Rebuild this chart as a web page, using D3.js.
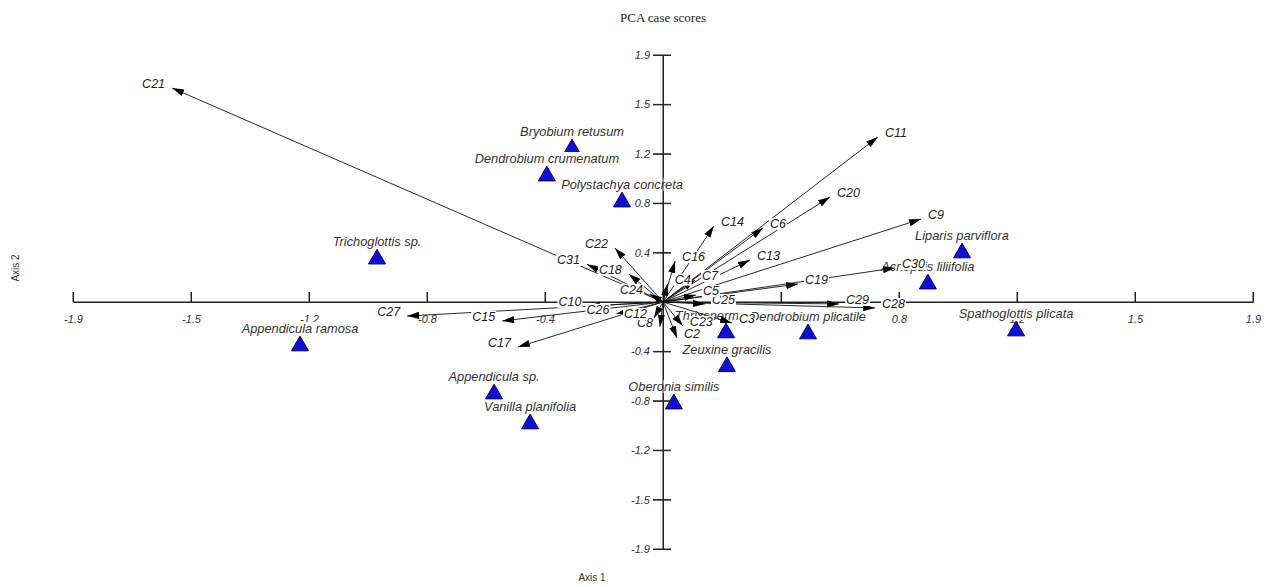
<!DOCTYPE html>
<html>
<head>
<meta charset="utf-8">
<script src="https://cdn.jsdelivr.net/npm/d3@7"></script>
<style>
  body { margin: 0; background: #fff; }
  svg { display: block; }
  text { font-family: Arial, "Liberation Sans", sans-serif; }
</style>
</head>
<body>
<script>
// tick positions are evenly spaced, labels are what the plot prints
const tickValues = [-1.9, -1.52, -1.14, -0.76, -0.38, 0, 0.38, 0.76, 1.14, 1.52, 1.9]
const xTickLabels = ["-1.9", "-1.5", "-1.2", "-0.8", "-0.4", "", "0.4", "0.8", "1.2", "1.5", "1.9"]
const yTickLabels = ["-1.9", "-1.5", "-1.2", "-0.8", "-0.4", "", "0.4", "0.8", "1.2", "1.5", "1.9"]

// case scores (species)
const species = ["Bryobium retusum", "Dendrobium crumenatum", "Polystachya concreta", "Trichoglottis sp.",
  "Appendicula ramosa", "Appendicula sp.", "Vanilla planifolia", "Oberonia similis", "Zeuxine gracilis",
  "Thrixspermum sp.", "Dendrobium plicatile", "Acriopsis liliifolia", "Liparis parviflora", "Spathoglottis plicata"]
const speciesX = [-0.293, -0.374, -0.132, -0.921, -1.169, -0.544, -0.428, 0.035, 0.206, 0.203, 0.467, 0.853, 0.963, 1.137]
const speciesY = [1.185, 0.977, 0.777, 0.338, -0.33, -0.70, -0.93, -0.777, -0.49, -0.23, -0.238, 0.146, 0.385, -0.215]

// variable loadings (biplot arrows)
const variables = ["C21", "C11", "C20", "C9", "C6", "C14", "C13", "C19", "C30", "C29", "C28", "C25", "C5", "C7",
  "C4", "C16", "C22", "C31", "C18", "C24", "C10", "C26", "C8", "C12", "C15", "C27", "C17", "C23", "C2", "C3"]
const varX = [-1.581, 0.692, 0.538, 0.831, 0.322, 0.164, 0.28, 0.435, 0.747, 0.567, 0.683, 0.135, 0.106, 0.103,
  0.015, 0.039, -0.155, -0.245, -0.11, -0.042, -0.24, -0.15, -0.01, -0.029, -0.518, -0.824, -0.467, 0.064, 0.045, 0.222]
const varY = [1.646, 1.269, 0.808, 0.638, 0.569, 0.585, 0.323, 0.138, 0.262, -0.015, -0.046, -0.015, 0.054, 0.169,
  0.14, 0.315, 0.415, 0.29, 0.215, 0.062, -0.03, -0.09, -0.19, -0.123, -0.146, -0.108, -0.346, -0.185, -0.277, -0.162]

let width = 1266
let height = 587

const svg = d3.select("body")
  .append("svg")
  .attr("width", width)
  .attr("height", height)

const x = d3.scaleLinear().domain([-1.9, 1.9]).range([73, 1253])
const y = d3.scaleLinear().domain([-1.9, 1.9]).range([549, 55])

svg.append("defs")
  .append("marker")
  .attr("id", "head")
  .attr("markerUnits", "userSpaceOnUse")
  .attr("viewBox", "0 -5 12 10")
  .attr("refX", 12)
  .attr("refY", 0)
  .attr("markerWidth", 12)
  .attr("markerHeight", 10)
  .attr("orient", "auto")
  .append("path")
  .attr("d", "M0,-3.6L12,0L0,3.6Z")
  .attr("fill", "#000")

// titles
svg.append("text")
  .attr("x", 663).attr("y", 22)
  .attr("text-anchor", "middle")
  .style("font-family", "'Liberation Serif', 'Times New Roman', serif")
  .style("font-size", "13px")
  .attr("fill", "#222")
  .text("PCA case scores")

svg.append("text")
  .attr("x", 592).attr("y", 581)
  .attr("text-anchor", "middle")
  .style("font-size", "10px")
  .attr("fill", "#333")
  .text("Axis 1")

svg.append("text")
  .attr("transform", "translate(19,268) rotate(-90)")
  .attr("text-anchor", "middle")
  .style("font-size", "10px")
  .attr("fill", "#333")
  .text("Axis 2")

// axes through the origin
const xAxis = d3.axisBottom(x)
  .tickValues(tickValues)
  .tickFormat((d, i) => xTickLabels[i])
  .tickSizeInner(-10)
  .tickSizeOuter(0)
  .tickPadding(13)

const yAxis = d3.axisLeft(y)
  .tickValues(tickValues)
  .tickFormat((d, i) => yTickLabels[i])
  .tickSizeInner(10)
  .tickSizeOuter(0)
  .tickPadding(3)

const gx = svg.append("g").attr("transform", `translate(0,${y(0)})`).call(xAxis)
const gy = svg.append("g").attr("transform", `translate(${x(0)},0)`).call(yAxis)

for (let g of [gx, gy]) {
  g.selectAll("text")
    .style("font-size", "11px")
    .style("font-style", "italic")
    .style("font-family", "Arial, 'Liberation Sans', sans-serif")
    .attr("fill", "#333")
  g.selectAll("path, line").attr("stroke", "#222")
}
gy.selectAll(".tick line").attr("x1", 8)
gx.selectAll(".tick").filter(d => d === 0).remove()
gy.selectAll(".tick").filter(d => d === 0).remove()

// axis lines get redrawn above the species labels
const axisLayer = svg.append("g")

// species: triangle then label with white box, in order
const speciesLayer = svg.insert("g", () => axisLayer.node())
species.forEach((name, i) => {
  let px = x(speciesX[i])
  let py = y(speciesY[i])
  speciesLayer.append("path")
    .attr("d", d3.symbol(d3.symbolTriangle, 125)())
    .attr("transform", `translate(${px},${py + 1})`)
    .attr("fill", "#1010d0")
    .attr("stroke", "#00005a")
    .attr("stroke-width", 1)
  let t = speciesLayer.append("text")
    .attr("x", px)
    .attr("y", py - 12)
    .attr("text-anchor", "middle")
    .style("font-size", "12.8px")
    .style("font-style", "italic")
    .attr("fill", "#333")
    .text(name)
  let b = t.node().getBBox()
  speciesLayer.insert("rect", () => t.node())
    .attr("x", b.x - 1).attr("y", b.y + 1)
    .attr("width", b.width + 2).attr("height", b.height - 2)
    .attr("fill", "#fff")
})

axisLayer.append("line")
  .attr("x1", x(-1.9)).attr("x2", x(1.9))
  .attr("y1", y(0)).attr("y2", y(0))
  .attr("stroke", "#222")
axisLayer.append("line")
  .attr("x1", x(0)).attr("x2", x(0))
  .attr("y1", y(1.9)).attr("y2", y(-1.9))
  .attr("stroke", "#222")
axisLayer.selectAll("line.xt")
  .data(tickValues.filter(d => d !== 0))
  .join("line")
  .attr("x1", d => x(d)).attr("x2", d => x(d))
  .attr("y1", y(0) - 10).attr("y2", y(0))
  .attr("stroke", "#222")
axisLayer.selectAll("line.yt")
  .data(tickValues.filter(d => d !== 0))
  .join("line")
  .attr("y1", d => y(d)).attr("y2", d => y(d))
  .attr("x1", x(0) - 10).attr("x2", x(0) + 8)
  .attr("stroke", "#222")

// arrows
svg.append("g")
  .selectAll("line")
  .data(variables)
  .join("line")
  .attr("x1", x(0)).attr("y1", y(0))
  .attr("x2", (d, i) => x(varX[i]))
  .attr("y2", (d, i) => y(varY[i]))
  .attr("stroke", "#111")
  .attr("stroke-width", 0.9)
  .attr("marker-end", "url(#head)")

// variable labels with white boxes
const varLayer = svg.append("g")
variables.forEach((name, i) => {
  let px = x(varX[i])
  let py = y(varY[i])
  let right = varX[i] >= 0
  let t = varLayer.append("text")
    .attr("x", right ? px + 7 : px - 7)
    .attr("y", py)
    .attr("text-anchor", right ? "start" : "end")
    .style("font-size", "12.5px")
    .style("font-style", "italic")
    .attr("fill", "#222")
    .text(name)
  let b = t.node().getBBox()
  varLayer.insert("rect", () => t.node())
    .attr("x", b.x - 1).attr("y", b.y + 1)
    .attr("width", b.width + 2).attr("height", b.height - 2)
    .attr("fill", "#fff")
})
</script>
</body>
</html>
